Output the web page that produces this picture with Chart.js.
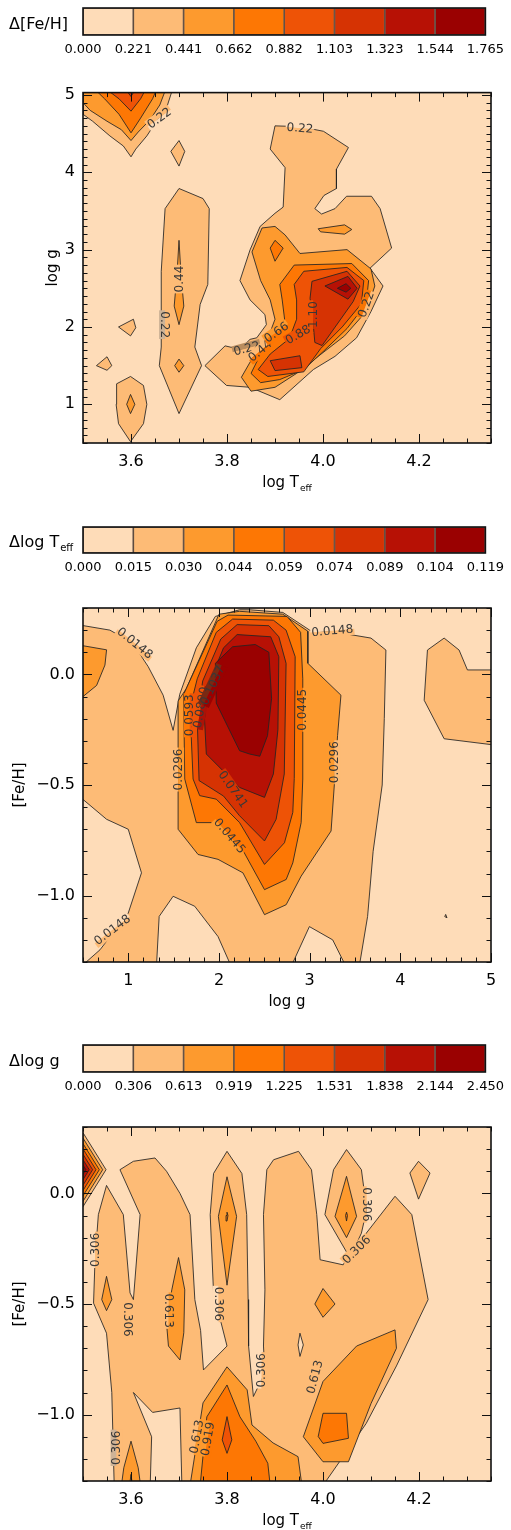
<!DOCTYPE html>
<html>
<head>
<meta charset="utf-8">
<title>Residual maps</title>
<script src="https://cdn.jsdelivr.net/npm/chart.js@4.4.1/dist/chart.umd.min.js"></script>
<style>
  html, body { margin: 0; padding: 0; background: #fff; }
  body { position: relative; width: 511px; height: 1530px; overflow: hidden; }
  canvas { position: absolute; left: 0; }
</style>
</head>
<body>
<canvas id="bar1" width="511" height="70" style="top:0px"></canvas>
<canvas id="map1" width="511" height="425" style="top:75px"></canvas>
<canvas id="bar2" width="511" height="70" style="top:515px"></canvas>
<canvas id="map2" width="511" height="430" style="top:590px"></canvas>
<canvas id="bar3" width="511" height="70" style="top:1030px"></canvas>
<canvas id="map3" width="511" height="430" style="top:1100px"></canvas>
<script>
// level colours, lowest band first
const LEVEL_COLORS = ['#FEDCB8', '#FDBB76', '#FD9A2E', '#FD7704', '#EE5306', '#D63303', '#B71105', '#9A0101'];
const LINE_COLOR = 'rgba(35,35,35,0.85)';

// colour bar tick labels
const fehBarTicks  = ['0.000', '0.221', '0.441', '0.662', '0.882', '1.103', '1.323', '1.544', '1.765'];
const teffBarTicks = ['0.000', '0.015', '0.030', '0.044', '0.059', '0.074', '0.089', '0.104', '0.119'];
const loggBarTicks = ['0.000', '0.306', '0.613', '0.919', '1.225', '1.531', '1.838', '2.144', '2.450'];

// ---- panel 1 : delta [Fe/H] over (log Teff, log g) ----
const fehL1 = [
  [[3.5,5.1],[3.5,4.75],[3.52,4.66],[3.556,4.47],[3.584,4.34],[3.6,4.2],[3.61,4.3],[3.633,4.47],[3.653,4.66],[3.674,4.83],[3.688,5.1]],
  [[3.683,4.27],[3.70,4.41],[3.712,4.27],[3.70,4.08]],
  [[3.70,3.79],[3.75,3.66],[3.763,3.53],[3.76,2.55],[3.744,2.29],[3.733,1.74],[3.747,1.5],[3.70,0.88],[3.659,1.5],[3.663,1.74],[3.663,2.72],[3.671,3.53]],
  [[3.574,2.0],[3.605,2.10],[3.61,1.99],[3.599,1.885]],
  [[3.528,1.5],[3.55,1.615],[3.56,1.5],[3.55,1.44]],
  [[3.57,1.265],[3.599,1.36],[3.626,1.244],[3.633,1.0],[3.626,0.75],[3.599,0.517],[3.574,0.75],[3.569,1.0]],
  [[3.90,4.60],[3.952,4.59],[4.001,4.53],[4.053,4.32],[4.028,4.04],[4.028,3.79],[4.002,3.70],[3.983,3.53],[3.997,3.46],[4.025,3.53],[4.049,3.69],[4.101,3.69],[4.119,3.53],[4.143,3.02],[4.098,2.76],[4.125,2.53],[4.1,2.2],[4.07,1.86],[4.025,1.62],[3.98,1.45],[3.91,1.06],[3.848,1.22],[3.799,1.244],[3.754,1.5],[3.796,1.756],[3.827,1.71],[3.848,1.84],[3.862,1.86],[3.882,2.03],[3.879,2.16],[3.848,2.35],[3.827,2.6],[3.848,2.996],[3.869,3.3],[3.90,3.47],[3.917,3.55],[3.921,4.06],[3.89,4.30]]
];
const fehL2 = [
  [[3.5,5.1],[3.5,4.9],[3.515,4.8],[3.55,4.66],[3.58,4.55],[3.6,4.41],[3.615,4.52],[3.64,4.68],[3.66,4.87],[3.674,5.1]],
  [[3.70,3.12],[3.704,2.7],[3.71,2.27],[3.70,2.03],[3.69,2.27],[3.696,2.7]],
  [[3.691,1.5],[3.70,1.585],[3.71,1.5],[3.70,1.415]],
  [[3.591,1.0],[3.599,1.128],[3.608,1.0],[3.599,0.88]],
  [[3.99,3.27],[4.045,3.32],[4.06,3.26],[4.045,3.2],[3.995,3.23]],
  [[3.852,2.97],[3.873,3.28],[3.90,3.30],[3.921,3.19],[3.952,2.95],[4.05,3.0],[4.10,2.75],[4.108,2.53],[4.09,2.2],[4.045,1.885],[3.99,1.62],[3.945,1.40],[3.90,1.22],[3.85,1.17],[3.83,1.35],[3.855,1.62],[3.885,1.85],[3.9,2.1],[3.89,2.35],[3.87,2.6]]
];
const fehL3 = [
  [[3.52,5.1],[3.545,4.95],[3.575,4.75],[3.6,4.51],[3.62,4.7],[3.645,4.95],[3.655,5.1]],
  [[3.89,3.02],[3.90,3.12],[3.917,3.02],[3.90,2.85]],
  [[3.91,2.55],[3.94,2.8],[4.06,2.82],[4.095,2.6],[4.09,2.3],[4.05,1.98],[4.0,1.68],[3.96,1.45],[3.91,1.32],[3.87,1.28],[3.85,1.4],[3.87,1.65],[3.905,1.88],[3.92,2.1],[3.915,2.35]]
];
const fehL4 = [
  [[3.543,5.1],[3.575,4.95],[3.6,4.79],[3.62,4.95],[3.633,5.1]],
  [[3.94,2.55],[3.96,2.72],[4.05,2.77],[4.085,2.6],[4.08,2.3],[4.04,2.0],[3.995,1.72],[3.96,1.42],[3.885,1.36],[3.865,1.45],[3.89,1.65],[3.93,1.85],[3.945,2.1],[3.945,2.35]]
];
const fehL5 = [
  [[3.585,5.1],[3.6,4.98],[3.612,5.1]],
  [[3.977,2.59],[4.05,2.72],[4.077,2.53],[4.063,2.33],[3.998,1.76],[3.983,1.8],[3.979,2.08],[3.973,2.37]],
  [[3.89,1.564],[3.952,1.628],[3.956,1.474],[3.90,1.436]]
];
const fehL6 = [[[4.004,2.53],[4.052,2.654],[4.071,2.5],[4.052,2.36]]];
const fehL7 = [[[4.03,2.5],[4.048,2.56],[4.058,2.5],[4.048,2.45]]];
const fehLabels = [
  [3.659,4.70,-36,'0.22'], [3.952,4.57,5,'0.22'], [3.70,2.62,-90,'0.44'], [3.671,2.03,90,'0.22'],
  [3.841,1.72,-15,'0.22'], [3.869,1.69,-40,'0.44'], [3.903,1.93,-35,'0.66'], [3.948,1.9,-30,'0.88'],
  [3.98,2.16,-90,'1.10'], [4.09,2.29,-70,'0.22']
];

// ---- panel 2 : delta log Teff over (log g, [Fe/H]) ----
const teffL1 = [
  [[0.45,0.224],[0.797,0.2],[1.05,0.14],[1.219,0.035],[1.384,-0.094],[1.494,-0.253],[1.567,-0.09],[1.75,0.12],[1.96,0.262],[2.227,0.292],[2.337,0.292],[2.704,0.28],[3.0,0.2],[3.3,0.19],[3.676,0.164],[3.841,0.11],[3.823,-0.2],[3.80,-0.5],[3.7,-0.8],[3.639,-1.094],[3.547,-1.32],[3.40,-1.32],[3.254,-1.2],[2.997,-1.14],[2.796,-1.32],[2.135,-1.32],[1.989,-1.185],[1.732,-1.048],[1.494,-1.003],[1.34,-1.094],[1.31,-1.32],[0.48,-1.32],[0.687,-1.245],[0.999,-1.079],[1.145,-0.897],[0.999,-0.70],[0.76,-0.655],[0.45,-0.548]],
  [[4.299,0.11],[4.483,0.164],[4.648,0.11],[4.74,0.02],[5.05,0.02],[5.05,-0.32],[4.483,-0.291],[4.263,-0.117]],
  [[4.49,-1.095],[4.515,-1.1],[4.5,-1.085]]
];
const teffL2 = [
  [[0.45,0.133],[0.76,0.111],[0.742,0.042],[0.65,-0.05],[0.45,-0.117]],
  [[2.0,0.272],[2.227,0.285],[2.704,0.272],[2.98,0.195],[2.98,0.05],[3.345,-0.094],[3.308,-0.276],[3.272,-0.5],[3.236,-0.708],[2.906,-0.912],[2.741,-1.041],[2.502,-1.086],[2.264,-0.897],[1.989,-0.836],[1.769,-0.814],[1.549,-0.7],[1.549,-0.12],[1.64,-0.064]]
];
const teffL3 = [
  [[1.622,-0.473],[1.75,-0.67],[1.989,-0.67],[2.227,-0.768],[2.502,-0.973],[2.741,-0.927],[2.814,-0.852],[2.906,-0.67],[2.924,-0.473],[2.924,-0.02],[2.9,0.19],[2.75,0.262],[2.1,0.268],[1.98,0.24],[1.61,-0.09]]
];
const teffL4 = [
  [[1.714,-0.473],[1.787,-0.548],[1.97,-0.564],[2.227,-0.67],[2.502,-0.859],[2.722,-0.761],[2.814,-0.624],[2.83,-0.47],[2.84,0.08],[2.74,0.2],[2.6,0.245],[2.15,0.25],[1.97,0.19],[1.76,-0.02],[1.68,-0.15]]
];
const teffL5 = [
  [[1.78,-0.48],[2.05,-0.55],[2.227,-0.639],[2.502,-0.753],[2.63,-0.655],[2.72,-0.45],[2.74,0.05],[2.66,0.17],[2.55,0.22],[2.2,0.225],[2.02,0.16],[1.82,-0.03],[1.76,-0.2]]
];
const teffL6 = [
  [[1.86,-0.36],[2.227,-0.511],[2.502,-0.556],[2.6,-0.45],[2.65,-0.25],[2.66,0.08],[2.57,0.17],[2.2,0.18],[2.05,0.12],[1.88,-0.05],[1.84,-0.2]]
];
const teffL7 = [
  [[1.97,-0.13],[2.227,-0.345],[2.337,-0.36],[2.45,-0.37],[2.535,-0.277],[2.58,-0.109],[2.55,0.1],[2.4,0.135],[2.15,0.125],[1.96,0.05]]
];
const teffLabels = [
  [1.072,0.141,39,'0.0148'], [3.25,0.197,-5,'0.0148'], [0.823,-1.155,-37,'0.0148'],
  [1.549,-0.43,-90,'0.0296'], [3.272,-0.397,-90,'0.0296'], [1.677,-0.185,-90,'0.0593'],
  [2.924,-0.16,-90,'0.0445'], [2.117,-0.73,50,'0.0445'], [2.154,-0.52,55,'0.0741'],
  [1.80,-0.15,-80,'0.0890'], [1.93,-0.05,-65,'0.1037']
];

// ---- panel 3 : delta log g over (log Teff, [Fe/H]) ----
const loggL1 = [
  [[3.549,0.036],[3.584,-0.096],[3.598,-0.45],[3.605,-0.48],[3.619,-0.096],[3.577,0.107],[3.605,0.145],[3.65,0.16],[3.674,0.10],[3.702,0.0],[3.723,-0.096],[3.733,-0.48],[3.745,-0.62],[3.751,-0.798],[3.80,-0.69],[3.772,-0.45],[3.765,-0.096],[3.772,0.09],[3.80,0.19],[3.831,0.09],[3.841,-0.096],[3.844,-0.48],[3.845,-0.69],[3.855,-0.918],[3.879,-0.81],[3.876,-0.69],[3.879,-0.436],[3.876,-0.096],[3.883,0.107],[3.897,0.152],[3.949,0.19],[3.976,0.107],[3.987,-0.096],[3.994,-0.3],[4.042,-0.323],[4.053,-0.28],[4.004,-0.096],[4.022,0.107],[4.049,0.198],[4.08,0.107],[4.091,-0.074],[4.08,-0.18],[4.065,-0.25],[4.15,-0.013],[4.185,-0.096],[4.219,-0.48],[4.153,-0.78],[4.09,-1.04],[4.0,-1.32],[3.706,-1.32],[3.702,-0.97],[3.645,-0.99],[3.605,-0.9],[3.643,-1.1],[3.64,-1.32],[3.565,-1.32],[3.56,-0.9],[3.549,-0.632],[3.522,-0.496],[3.525,-0.3],[3.532,-0.096]],
  [[3.5,0.274],[3.548,0.107],[3.5,-0.06]],
  [[4.181,0.092],[4.199,0.145],[4.223,0.092],[4.199,-0.026]]
];
const loggHoles = [
  [[3.948,-0.685],[3.952,-0.632],[3.959,-0.685],[3.952,-0.737]]
];
const loggL2 = [
  [[3.5,0.25],[3.541,0.107],[3.5,-0.036]],
  [[3.539,-0.48],[3.549,-0.375],[3.56,-0.48],[3.549,-0.53]],
  [[3.699,-0.29],[3.712,-0.436],[3.71,-0.63],[3.702,-0.753],[3.678,-0.69],[3.674,-0.587],[3.685,-0.436]],
  [[3.782,-0.104],[3.80,0.075],[3.82,-0.104],[3.80,-0.415]],
  [[4.025,-0.104],[4.049,0.077],[4.07,-0.104],[4.049,-0.2]],
  [[3.983,-0.5],[4.0,-0.43],[4.025,-0.5],[4.0,-0.56]],
  [[3.959,-1.1],[4.0,-0.85],[4.07,-0.69],[4.15,-0.617],[4.153,-0.70],[4.1,-0.95],[4.053,-1.213],[4.0,-1.213]],
  [[3.723,-1.32],[3.75,-0.947],[3.80,-0.784],[3.842,-0.888],[3.852,-1.047],[3.896,-1.128],[3.948,-1.19],[3.956,-1.32]],
  [[3.58,-1.32],[3.585,-1.24],[3.6,-1.12],[3.615,-1.24],[3.62,-1.32]]
];
const loggL3 = [
  [[3.5,0.225],[3.534,0.107],[3.5,-0.011]],
  [[3.744,-1.32],[3.758,-1.01],[3.80,-0.866],[3.827,-1.01],[3.86,-1.12],[3.885,-1.22],[3.89,-1.32]],
  [[3.99,-1.099],[4.0,-0.994],[4.049,-0.994],[4.053,-1.107],[4.0,-1.13]],
  [[3.798,-0.1],[3.80,-0.085],[3.802,-0.1],[3.80,-0.125]],
  [[4.047,-0.1],[4.049,-0.085],[4.051,-0.1],[4.049,-0.125]],
  [[3.597,-1.32],[3.6,-1.27],[3.603,-1.32]]
];
const loggL4 = [
  [[3.5,0.201],[3.527,0.107],[3.5,0.013]],
  [[3.79,-1.114],[3.80,-1.009],[3.81,-1.114],[3.80,-1.175]]
];
const loggL5 = [[[3.5,0.177],[3.52,0.107],[3.5,0.037]]];
const loggL6 = [[[3.5,0.152],[3.513,0.107],[3.5,0.062]]];
const loggL7 = [[[3.5,0.128],[3.506,0.107],[3.5,0.086]]];
const loggLabels = [
  [3.525,-0.255,-90,'0.306'], [3.594,-0.57,90,'0.306'], [3.57,-1.15,-90,'0.306'],
  [3.678,-0.53,90,'0.613'], [3.782,-0.5,90,'0.306'], [3.872,-0.8,-90,'0.306'],
  [3.983,-0.83,-75,'0.613'], [3.737,-1.1,-80,'0.613'], [3.76,-1.11,-80,'0.919'],
  [4.091,-0.05,90,'0.306'], [4.07,-0.255,-45,'0.306']
];

Chart.defaults.font.family = '"DejaVu Sans", sans-serif';
Chart.defaults.color = '#000';

function shapeSet(poly, color, order) {
  const pts = poly.map(([x, y]) => ({x, y}));
  pts.push(pts[0]);
  return {
    data: pts, backgroundColor: color, borderColor: LINE_COLOR, borderWidth: 1,
    fill: 'shape', pointRadius: 0, tension: 0, order
  };
}

function buildSets(levels, holes) {
  const sets = [];
  levels.forEach((polys, i) => {
    polys.forEach(p => sets.push(shapeSet(p, LEVEL_COLORS[i + 1], 100 - (i + 1) * 10)));
  });
  (holes || []).forEach(p => sets.push(shapeSet(p, LEVEL_COLORS[0], 85)));
  return sets;
}

function drawSubText(ctx, parts, x, y, size, align) {
  const main = size + 'px "DejaVu Sans"';
  const sub = Math.round(size * 0.62) + 'px "DejaVu Sans"';
  ctx.font = main;
  const w1 = ctx.measureText(parts[0]).width;
  ctx.font = sub;
  const w2 = parts[1] ? ctx.measureText(parts[1]).width + 1 : 0;
  let x0 = align === 'center' ? x - (w1 + w2) / 2 : x;
  ctx.textAlign = 'left';
  ctx.textBaseline = 'alphabetic';
  ctx.font = main;
  ctx.fillText(parts[0], x0, y);
  if (parts[1]) {
    ctx.font = sub;
    ctx.fillText(parts[1], x0 + w1 + 1, y + size * 0.28);
  }
}

// colour of the already drawn map at a local (rotated) point
function pickColor(ctx, lx, ly) {
  const p = ctx.getTransform().transformPoint(new DOMPoint(lx, ly));
  const d = ctx.getImageData(Math.round(p.x), Math.round(p.y), 1, 1).data;
  return `rgb(${d[0]},${d[1]},${d[2]})`;
}

const mapDecor = {
  id: 'mapDecor',
  beforeDatasetsDraw(chart) {
    const {ctx, chartArea: a} = chart;
    ctx.save();
    ctx.fillStyle = LEVEL_COLORS[0];
    ctx.fillRect(a.left, a.top, a.width, a.height);
    ctx.restore();
  },
  afterDraw(chart, args, opts) {
    const {ctx, chartArea: a, scales: {x, y}} = chart;
    ctx.save();
    // contour labels, with the line broken underneath
    ctx.font = '12px "DejaVu Sans"';
    ctx.textAlign = 'center';
    ctx.textBaseline = 'middle';
    opts.labels.forEach(([lx, ly, ang, txt]) => {
      ctx.save();
      ctx.translate(x.getPixelForValue(lx), y.getPixelForValue(ly));
      ctx.rotate(ang * Math.PI / 180);
      const w = ctx.measureText(txt).width + 2;
      const up = pickColor(ctx, 0, -5);
      const down = pickColor(ctx, 0, 5);
      ctx.fillStyle = up;
      ctx.fillRect(-w / 2, -6, w, 6);
      ctx.fillStyle = down;
      ctx.fillRect(-w / 2, 0, w, 6);
      ctx.fillStyle = '#383838';
      ctx.fillText(txt, 0, 0.5);
      ctx.restore();
    });
    // inward ticks on all four sides
    ctx.strokeStyle = '#111';
    ctx.lineWidth = 1;
    ctx.beginPath();
    const marks = (scale, major, step, horiz) => {
      const start = Math.ceil(scale.min / step - 1e-6);
      for (let k = start; k * step <= scale.max + 1e-9; k++) {
        const v = k * step;
        const len = major.some(m => Math.abs(m - v) < 1e-6) ? 9 : 4.5;
        const p = Math.round(scale.getPixelForValue(v)) + 0.5;
        if (horiz) {
          ctx.moveTo(p, a.bottom); ctx.lineTo(p, a.bottom - len);
          ctx.moveTo(p, a.top); ctx.lineTo(p, a.top + len);
        } else {
          ctx.moveTo(a.left, p); ctx.lineTo(a.left + len, p);
          ctx.moveTo(a.right, p); ctx.lineTo(a.right - len, p);
        }
      }
    };
    marks(x, opts.xMajor, opts.xStep, true);
    marks(y, opts.yMajor, opts.yStep, false);
    ctx.stroke();
    ctx.lineWidth = 1.6;
    ctx.strokeStyle = '#111';
    ctx.strokeRect(a.left, a.top, a.width, a.height);
    // axis titles
    ctx.fillStyle = '#000';
    drawSubText(ctx, opts.xTitle, (a.left + a.right) / 2, a.bottom + 44, 15, 'center');
    ctx.save();
    ctx.translate(opts.yTitleX, (a.top + a.bottom) / 2);
    ctx.rotate(-Math.PI / 2);
    drawSubText(ctx, opts.yTitle, 0, 5, 15, 'center');
    ctx.restore();
    ctx.restore();
  }
};

const barDecor = {
  id: 'barDecor',
  afterDraw(chart, args, opts) {
    const {ctx, chartArea: a} = chart;
    ctx.save();
    ctx.strokeStyle = '#111';
    ctx.lineWidth = 1.6;
    ctx.strokeRect(a.left, a.top, a.width, a.height);
    ctx.fillStyle = '#000';
    drawSubText(ctx, opts.title, 9, (a.top + a.bottom) / 2 + 7, 16, 'left');
    ctx.restore();
  }
};

function colorBar(id, ticks, title, padTop, axisH) {
  new Chart(document.getElementById(id), {
    type: 'bar',
    data: {
      labels: [''],
      datasets: LEVEL_COLORS.map(c => ({
        data: [1], backgroundColor: c, borderColor: 'rgba(50,25,10,0.7)', borderWidth: 1.2,
        borderSkipped: false, barPercentage: 1, categoryPercentage: 1
      }))
    },
    options: {
      indexAxis: 'y', responsive: false, animation: false, events: [],
      layout: { padding: { left: 83, right: 20, top: padTop, bottom: 0 } },
      plugins: { legend: { display: false }, tooltip: { enabled: false }, barDecor: { title } },
      scales: {
        x: {
          type: 'linear', stacked: true, min: 0, max: 8,
          afterBuildTicks: s => { s.ticks = ticks.map((t, i) => ({ value: i })); },
          afterFit: s => { s.height = axisH; },
          ticks: { callback: v => ticks[Math.round(v)], font: { size: 13 }, color: '#000', padding: 7, maxRotation: 0, autoSkip: false },
          grid: { display: false, drawTicks: false }, border: { display: false }
        },
        y: { stacked: true, display: false }
      }
    },
    plugins: [barDecor]
  });
}

function contourMap(id, cfg) {
  new Chart(document.getElementById(id), {
    type: 'line',
    data: { datasets: buildSets(cfg.levels, cfg.holes) },
    options: {
      responsive: false, animation: false, events: [],
      layout: { padding: { left: 0, right: 20, top: cfg.padTop, bottom: 0 } },
      plugins: {
        legend: { display: false }, tooltip: { enabled: false },
        mapDecor: {
          labels: cfg.labels, xMajor: cfg.xTicks, yMajor: cfg.yTicks, xStep: cfg.xStep, yStep: cfg.yStep,
          xTitle: cfg.xTitle, yTitle: cfg.yTitle, yTitleX: cfg.yTitleX
        }
      },
      scales: {
        x: {
          type: 'linear', min: cfg.xRange[0], max: cfg.xRange[1],
          afterBuildTicks: s => { s.ticks = cfg.xTicks.map(v => ({ value: v })); },
          afterFit: s => { s.height = cfg.axisH; },
          ticks: { callback: cfg.xFmt, font: { size: 16 }, color: '#000', padding: 9, maxRotation: 0, autoSkip: false },
          grid: { display: false, drawTicks: false }, border: { display: false }
        },
        y: {
          type: 'linear', min: cfg.yRange[0], max: cfg.yRange[1],
          afterBuildTicks: s => { s.ticks = cfg.yTicks.map(v => ({ value: v })); },
          afterFit: s => { s.width = 83; },
          ticks: { callback: cfg.yFmt, font: { size: 16 }, color: '#000', padding: 8, autoSkip: false },
          grid: { display: false, drawTicks: false }, border: { display: false }
        }
      }
    },
    plugins: [mapDecor]
  });
}

const fmt1 = v => v.toFixed(1).replace('-', '\u2212');

colorBar('bar1', fehBarTicks, ['\u0394[Fe/H]'], 8, 35);
contourMap('map1', {
  levels: [fehL1, fehL2, fehL3, fehL4, fehL5, fehL6, fehL7], labels: fehLabels,
  xRange: [3.5, 4.35], yRange: [0.5, 5.03], xTicks: [3.6, 3.8, 4.0, 4.2], yTicks: [1, 2, 3, 4, 5],
  xStep: 0.05, yStep: 0.1, xFmt: fmt1, yFmt: v => String(v),
  xTitle: ['log T', 'eff'], yTitle: ['log g'], yTitleX: 52, padTop: 14, axisH: 57
});

colorBar('bar2', teffBarTicks, ['\u0394log T', 'eff'], 12, 32);
contourMap('map2', {
  levels: [teffL1, teffL2, teffL3, teffL4, teffL5, teffL6, teffL7], labels: teffLabels,
  xRange: [0.5, 5.0], yRange: [-1.3, 0.3], xTicks: [1, 2, 3, 4, 5], yTicks: [-1.0, -0.5, 0.0],
  xStep: 1 / 6, yStep: 0.1, xFmt: v => String(v), yFmt: fmt1,
  xTitle: ['log g'], yTitle: ['[Fe/H]'], yTitleX: 19, padTop: 18, axisH: 58
});

colorBar('bar3', loggBarTicks, ['\u0394log g'], 15, 28);
contourMap('map3', {
  levels: [loggL1, loggL2, loggL3, loggL4, loggL5, loggL6, loggL7], holes: loggHoles, labels: loggLabels,
  xRange: [3.5, 4.35], yRange: [-1.3, 0.3], xTicks: [3.6, 3.8, 4.0, 4.2], yTicks: [-1.0, -0.5, 0.0],
  xStep: 0.05, yStep: 0.1, xFmt: fmt1, yFmt: fmt1,
  xTitle: ['log T', 'eff'], yTitle: ['[Fe/H]'], yTitleX: 19, padTop: 27, axisH: 49
});
</script>
</body>
</html>
